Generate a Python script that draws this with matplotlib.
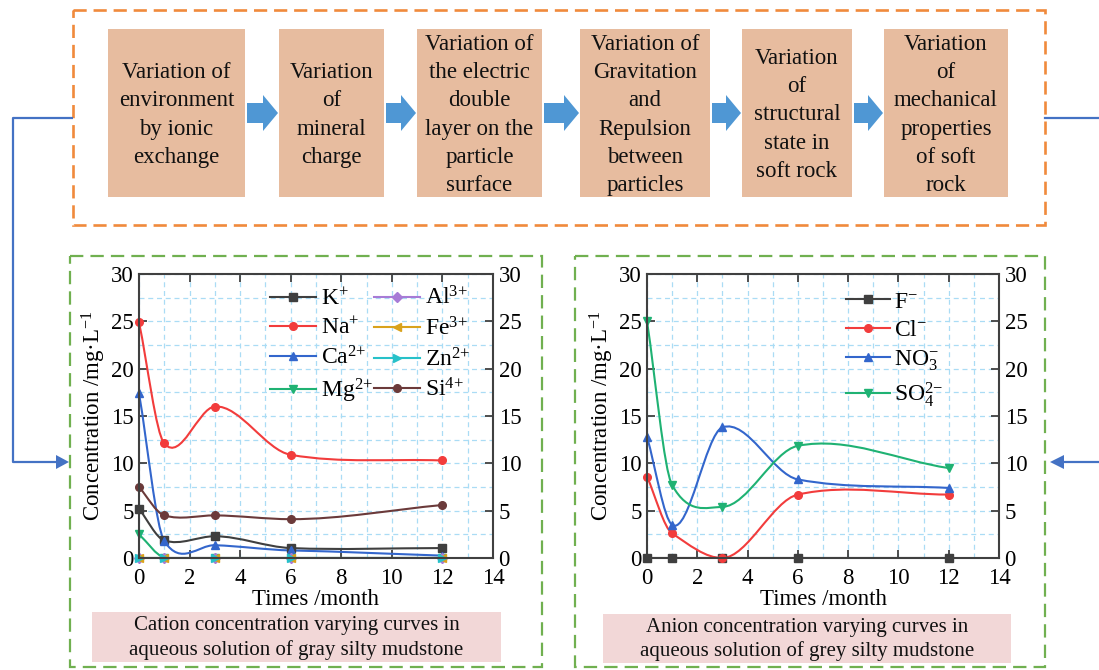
import numpy as np
import matplotlib
matplotlib.use("Agg")
import matplotlib.pyplot as plt
from matplotlib.path import Path
from matplotlib.patches import PathPatch, Rectangle, FancyArrow, Polygon
from matplotlib.lines import Line2D
from matplotlib.ticker import MultipleLocator

plt.rcParams['font.family'] = ['Liberation Serif', 'DejaVu Serif']
plt.rcParams['mathtext.fontset'] = 'custom'
plt.rcParams['mathtext.rm'] = 'Liberation Serif'
plt.rcParams['mathtext.it'] = 'Liberation Serif:italic'
plt.rcParams['mathtext.bf'] = 'Liberation Serif:bold'

# sampling times (month)
months = [0, 1, 3, 6, 12]

# cations, mg/L
cation_names = ['K$^{+}$', 'Na$^{+}$', 'Ca$^{2{+}}$', 'Mg$^{2{+}}$',
                'Al$^{3{+}}$', 'Fe$^{3{+}}$', 'Zn$^{2{+}}$', 'Si$^{4{+}}$']
k_vals = [5.2, 1.85, 2.3, 1.05, 1.05]
na_vals = [24.9, 12.1, 16.0, 10.9, 10.3]
ca_vals = [17.4, 1.8, 1.35, 0.8, 0.25]
mg_vals = [2.5, 0.05, 0.0, 0.0, 0.0]
al_vals = [0.0, 0.0, 0.0, 0.0, 0.0]
fe_vals = [0.0, 0.0, 0.0, 0.0, 0.0]
zn_vals = [0.0, 0.0, 0.0, 0.0, 0.0]
si_vals = [7.5, 4.5, 4.5, 4.1, 5.6]
cation_vals = [k_vals, na_vals, ca_vals, mg_vals, al_vals, fe_vals, zn_vals, si_vals]
cation_colors = ['#3f3f3f', '#f23c3c', '#3366cc', '#1fb273', '#a77bd6', '#d9a21c', '#27c1c9', '#6b3a3a']
cation_markers = ['s', 'o', '^', 'v', 'D', '<', '>', 'o']

# anions, mg/L
anion_names = ['F$^{-}$', 'Cl$^{-}$', 'NO$_{3}^{-}$', 'SO$_{4}^{2{-}}$']
f_vals = [0.0, 0.0, 0.0, 0.0, 0.0]
cl_vals = [8.6, 2.6, 0.0, 6.7, 6.7]
no3_vals = [12.8, 3.5, 13.8, 8.3, 7.4]
so4_vals = [25.0, 7.7, 5.4, 11.85, 9.5]
anion_vals = [f_vals, cl_vals, no3_vals, so4_vals]
anion_colors = ['#3f3f3f', '#f23c3c', '#3366cc', '#1fb273']
anion_markers = ['s', 'o', '^', 'v']

steps = ['Variation of\nenvironment\nby ionic\nexchange',
         'Variation\nof\nmineral\ncharge',
         'Variation of\nthe electric\ndouble\nlayer on the\nparticle\nsurface',
         'Variation of\nGravitation\nand\nRepulsion\nbetween\nparticles',
         'Variation\nof\nstructural\nstate in\nsoft rock',
         'Variation\nof\nmechanical\nproperties\nof soft\nrock']
captions = ['Cation concentration varying curves in\naqueous solution of gray silty mudstone',
            'Anion concentration varying curves in\naqueous solution of grey silty mudstone']


def smooth_path(x, y, tension=0.4):
    # hermite curve through the points, drawn as bezier segments
    x = np.asarray(x, float)
    y = np.asarray(y, float)
    h = np.diff(x)
    d = np.diff(y) / h
    m = np.zeros(len(x))
    m[0] = d[0]
    m[-1] = d[-1]
    for i in range(1, len(x) - 1):
        m[i] = tension * (d[i - 1] * h[i] + d[i] * h[i - 1]) / (h[i - 1] + h[i])
    verts = [(x[0], y[0])]
    codes = [Path.MOVETO]
    for i in range(len(x) - 1):
        verts += [(x[i] + h[i] / 3, y[i] + h[i] * m[i] / 3),
                  (x[i + 1] - h[i] / 3, y[i + 1] - h[i] * m[i + 1] / 3),
                  (x[i + 1], y[i + 1])]
        codes += [Path.CURVE4] * 3
    return Path(verts, codes)


fig = plt.figure(figsize=(10.99, 6.70), dpi=100)

# background layer in pixel coordinates
bg = fig.add_axes([0, 0, 1, 1])
bg.set_xlim(0, 1099)
bg.set_ylim(670, 0)
bg.axis('off')

orange = '#f08a3c'
green = '#70b050'
blue_line = '#4472c4'
blue_arrow = '#4f97d4'

bg.add_patch(Rectangle((73, 10), 972, 215, fill=False, ec=orange, lw=1.9,
                       linestyle=(0, (5, 2.6))))
box_x = [(108, 245), (279, 384), (417, 542), (580, 710), (742, 852), (884, 1008)]
for (x0, x1), txt in zip(box_x, steps):
    bg.add_patch(Rectangle((x0, 29), x1 - x0, 168, fc='#e7bc9f', ec='none'))
    bg.text((x0 + x1) / 2, 115, txt, ha='center', va='center', fontsize=16.5,
            linespacing=1.44, color='#111111')
for i in range(len(box_x) - 1):
    a0 = box_x[i][1] + 2
    a1 = box_x[i + 1][0] - 1
    bg.add_patch(FancyArrow(a0, 113, a1 - a0, 0, width=20, head_width=36,
                            head_length=15, length_includes_head=True,
                            fc=blue_arrow, ec='none'))

# feedback connectors
bg.plot([73, 13, 13, 58], [118, 118, 462, 462], color=blue_line, lw=1.6,
        solid_capstyle='butt')
bg.add_patch(Polygon([(56, 455), (69, 462), (56, 469)], fc=blue_line, ec='none'))
bg.plot([1045, 1099], [118, 118], color=blue_line, lw=1.6)
bg.plot([1062, 1099], [462, 462], color=blue_line, lw=1.6)
bg.add_patch(Polygon([(1064, 455), (1050, 462), (1064, 469)], fc=blue_line, ec='none'))

# dashed green frames and captions
for (x0, x1), (cx0, cx1, cy0, cy1), cap in zip([(70, 542), (575, 1045)],
                                               [(92, 501, 612, 662), (603, 1011, 614, 663)],
                                               captions):
    bg.add_patch(Rectangle((x0, 256), x1 - x0, 411, fill=False, ec=green, lw=1.6,
                           linestyle=(0, (6, 3.2))))
    bg.add_patch(Rectangle((cx0, cy0), cx1 - cx0, cy1 - cy0, fc='#f2d7d7', ec='none'))
    bg.text((cx0 + cx1) / 2, (cy0 + cy1) / 2 + 1, cap, ha='center', va='center',
            fontsize=15, linespacing=1.32, color='#111111')


def style_axes(ax):
    ax.set_xlim(0, 14)
    ax.set_ylim(0, 30)
    ax.set_xticks(range(0, 15, 2))
    ax.set_yticks(range(0, 31, 5))
    ax.xaxis.set_minor_locator(MultipleLocator(1))
    ax.yaxis.set_minor_locator(MultipleLocator(2.5))
    ax.grid(which='both', color='#aadcf5', linestyle=(0, (4, 3)), lw=0.9)
    ax.set_axisbelow(True)
    ax.tick_params(which='major', direction='in', top=True, right=True,
                   labelright=True, length=6, width=1.3, labelsize=16.5,
                   pad=4, color='#404040')
    ax.tick_params(axis='x', which='major', pad=7)
    ax.tick_params(which='minor', length=0)
    for sp in ax.spines.values():
        sp.set_color('#404040')
        sp.set_linewidth(1.5)
    ax.set_xlabel('Times /month', fontsize=16.5, labelpad=0)
    ax.set_ylabel('Concentration /mg·L$^{-1}$', fontsize=16.5, labelpad=2)


def draw_series(ax, vals, colors, markers):
    handles = []
    for v, c, m in zip(vals, colors, markers):
        ax.add_patch(PathPatch(smooth_path(months, v), fill=False, ec=c, lw=1.5))
        ax.plot(months, v, ls='none', marker=m, color=c, markersize=5.5, clip_on=False)
        handles.append(Line2D([0], [0], color=c, lw=1.5, marker=m, markersize=5.5))
    return handles


ax1 = fig.add_axes([139 / 1099, 112 / 670, 354 / 1099, 284 / 670])
style_axes(ax1)
h1 = draw_series(ax1, cation_vals, cation_colors, cation_markers)
ax1.legend(h1, cation_names, ncol=2, frameon=False, fontsize=17,
           loc='upper left', bbox_to_anchor=(0.37, 0.955), borderaxespad=0,
           borderpad=0, handlelength=1.95, handletextpad=0.2,
           columnspacing=0.05, labelspacing=0.31)

ax2 = fig.add_axes([647 / 1099, 112 / 670, 352 / 1099, 284 / 670])
style_axes(ax2)
h2 = draw_series(ax2, anion_vals, anion_colors, anion_markers)
ax2.legend(h2, anion_names, frameon=False, fontsize=17,
           loc='upper left', bbox_to_anchor=(0.565, 0.94), borderaxespad=0,
           borderpad=0, handlelength=1.85, handletextpad=0.2, labelspacing=0.3)

fig.savefig('out.png', dpi=100)
